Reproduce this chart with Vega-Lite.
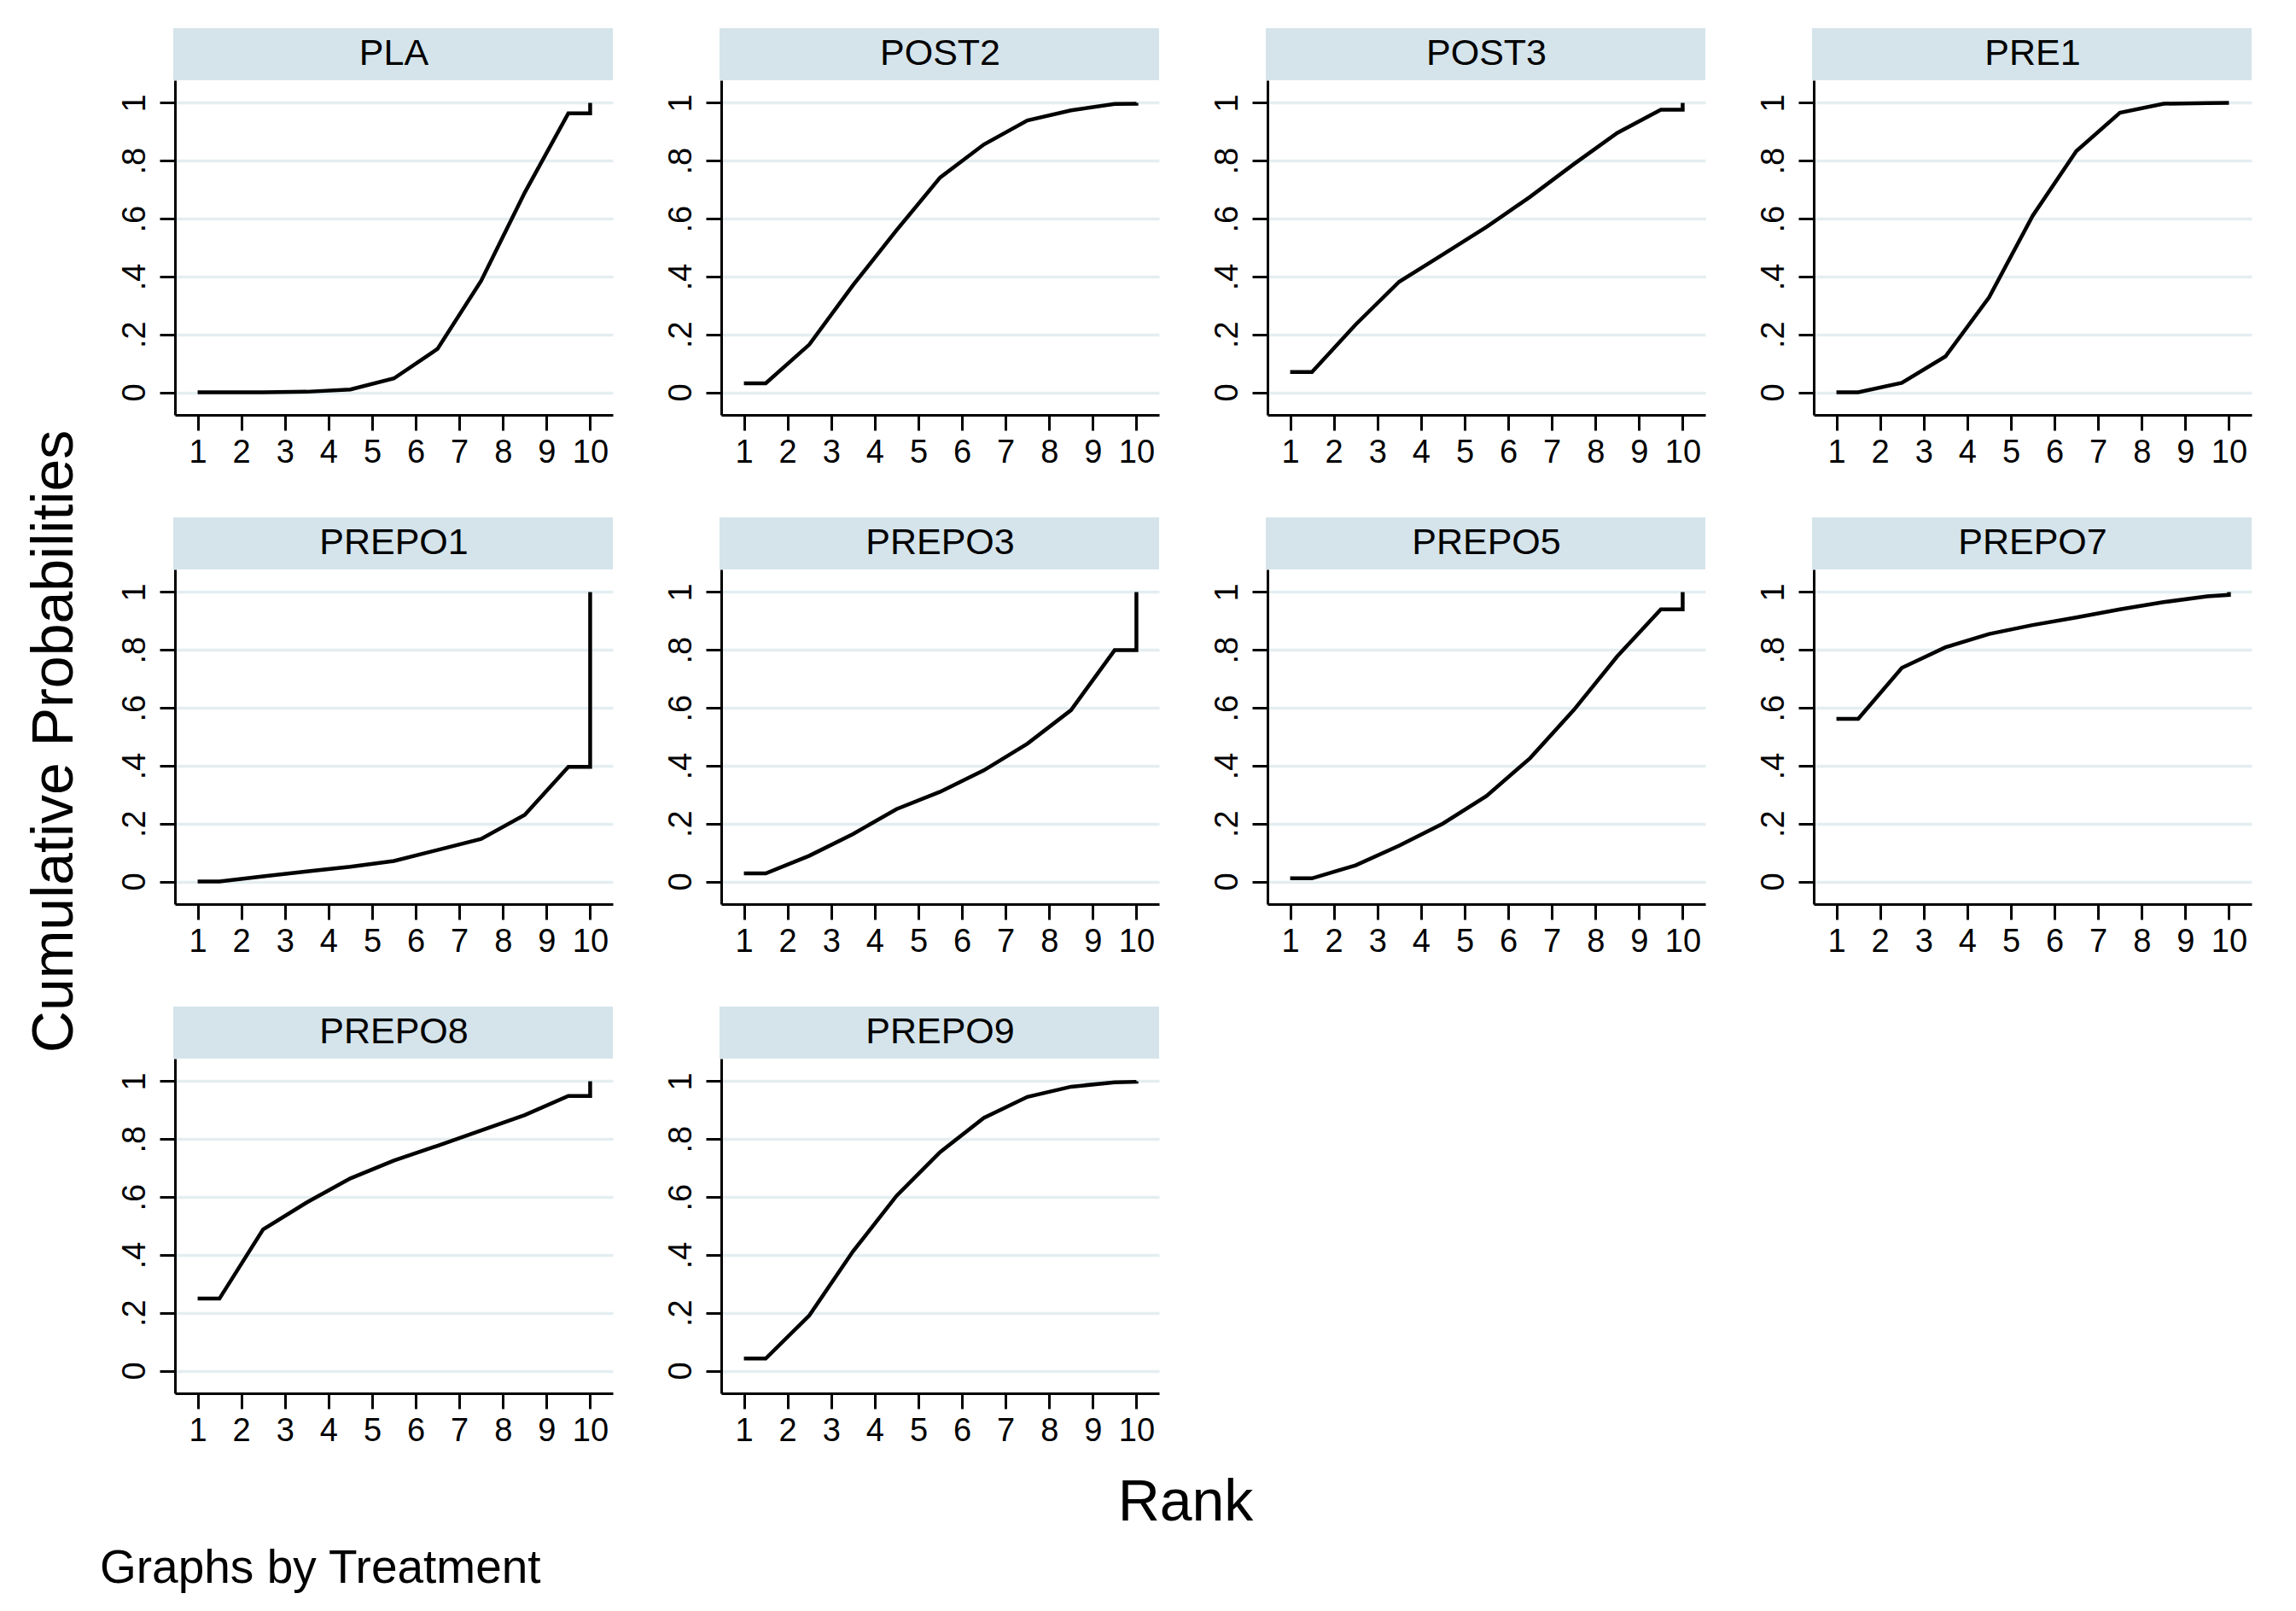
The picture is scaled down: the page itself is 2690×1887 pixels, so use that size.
{
  "$schema": "https://vega.github.io/schema/vega-lite/v6.json",
  "background": "white",
  "padding": {"left": 30, "top": 31, "right": 10, "bottom": 10},
  "config": {
    "font": "Liberation Sans",
    "view": {"stroke": null},
    "axis": {"domainColor": "black", "domainWidth": 3, "tickColor": "black", "tickWidth": 3, "tickSize": 18, "labelColor": "black", "labelFontSize": 38, "labelFont": "Liberation Sans", "labelPadding": 10, "grid": false},
    "title": {"fontWeight": "normal", "color": "black", "font": "Liberation Sans"}
  },
  "data": {"values": [
    {"t":"PLA","o":0,"r":1,"p":0},{"t":"PLA","o":1,"r":1.5,"p":0},{"t":"PLA","o":2,"r":2.5,"p":0},{"t":"PLA","o":3,"r":3.5,"p":0.002},{"t":"PLA","o":4,"r":4.5,"p":0.01},{"t":"PLA","o":5,"r":5.5,"p":0.048},{"t":"PLA","o":6,"r":6.5,"p":0.15},{"t":"PLA","o":7,"r":7.5,"p":0.385},{"t":"PLA","o":8,"r":8.5,"p":0.69},{"t":"PLA","o":9,"r":9.5,"p":0.964},{"t":"PLA","o":10,"r":10,"p":0.964},{"t":"PLA","o":11,"r":10,"p":1},
    {"t":"POST2","o":0,"r":1,"p":0.031},{"t":"POST2","o":1,"r":1.5,"p":0.031},{"t":"POST2","o":2,"r":2.5,"p":0.165},{"t":"POST2","o":3,"r":3.5,"p":0.37},{"t":"POST2","o":4,"r":4.5,"p":0.56},{"t":"POST2","o":5,"r":5.5,"p":0.742},{"t":"POST2","o":6,"r":6.5,"p":0.856},{"t":"POST2","o":7,"r":7.5,"p":0.939},{"t":"POST2","o":8,"r":8.5,"p":0.974},{"t":"POST2","o":9,"r":9.5,"p":0.996},{"t":"POST2","o":10,"r":10,"p":0.997},{"t":"POST2","o":11,"r":10,"p":1},
    {"t":"POST3","o":0,"r":1,"p":0.07},{"t":"POST3","o":1,"r":1.5,"p":0.07},{"t":"POST3","o":2,"r":2.5,"p":0.234},{"t":"POST3","o":3,"r":3.5,"p":0.382},{"t":"POST3","o":4,"r":4.5,"p":0.476},{"t":"POST3","o":5,"r":5.5,"p":0.571},{"t":"POST3","o":6,"r":6.5,"p":0.675},{"t":"POST3","o":7,"r":7.5,"p":0.788},{"t":"POST3","o":8,"r":8.5,"p":0.896},{"t":"POST3","o":9,"r":9.5,"p":0.976},{"t":"POST3","o":10,"r":10,"p":0.976},{"t":"POST3","o":11,"r":10,"p":1},
    {"t":"PRE1","o":0,"r":1,"p":0},{"t":"PRE1","o":1,"r":1.5,"p":0},{"t":"PRE1","o":2,"r":2.5,"p":0.033},{"t":"PRE1","o":3,"r":3.5,"p":0.124},{"t":"PRE1","o":4,"r":4.5,"p":0.328},{"t":"PRE1","o":5,"r":5.5,"p":0.61},{"t":"PRE1","o":6,"r":6.5,"p":0.833},{"t":"PRE1","o":7,"r":7.5,"p":0.966},{"t":"PRE1","o":8,"r":8.5,"p":0.997},{"t":"PRE1","o":9,"r":9.5,"p":0.999},{"t":"PRE1","o":10,"r":10,"p":1},{"t":"PRE1","o":11,"r":10,"p":1},
    {"t":"PREPO1","o":0,"r":1,"p":0},{"t":"PREPO1","o":1,"r":1.5,"p":0},{"t":"PREPO1","o":2,"r":2.5,"p":0.018},{"t":"PREPO1","o":3,"r":3.5,"p":0.035},{"t":"PREPO1","o":4,"r":4.5,"p":0.051},{"t":"PREPO1","o":5,"r":5.5,"p":0.071},{"t":"PREPO1","o":6,"r":6.5,"p":0.109},{"t":"PREPO1","o":7,"r":7.5,"p":0.147},{"t":"PREPO1","o":8,"r":8.5,"p":0.23},{"t":"PREPO1","o":9,"r":9.5,"p":0.396},{"t":"PREPO1","o":10,"r":10,"p":0.396},{"t":"PREPO1","o":11,"r":10,"p":1},
    {"t":"PREPO3","o":0,"r":1,"p":0.028},{"t":"PREPO3","o":1,"r":1.5,"p":0.028},{"t":"PREPO3","o":2,"r":2.5,"p":0.089},{"t":"PREPO3","o":3,"r":3.5,"p":0.164},{"t":"PREPO3","o":4,"r":4.5,"p":0.25},{"t":"PREPO3","o":5,"r":5.5,"p":0.31},{"t":"PREPO3","o":6,"r":6.5,"p":0.384},{"t":"PREPO3","o":7,"r":7.5,"p":0.476},{"t":"PREPO3","o":8,"r":8.5,"p":0.592},{"t":"PREPO3","o":9,"r":9.5,"p":0.799},{"t":"PREPO3","o":10,"r":10,"p":0.799},{"t":"PREPO3","o":11,"r":10,"p":1},
    {"t":"PREPO5","o":0,"r":1,"p":0.011},{"t":"PREPO5","o":1,"r":1.5,"p":0.011},{"t":"PREPO5","o":2,"r":2.5,"p":0.056},{"t":"PREPO5","o":3,"r":3.5,"p":0.124},{"t":"PREPO5","o":4,"r":4.5,"p":0.2},{"t":"PREPO5","o":5,"r":5.5,"p":0.295},{"t":"PREPO5","o":6,"r":6.5,"p":0.426},{"t":"PREPO5","o":7,"r":7.5,"p":0.592},{"t":"PREPO5","o":8,"r":8.5,"p":0.778},{"t":"PREPO5","o":9,"r":9.5,"p":0.94},{"t":"PREPO5","o":10,"r":10,"p":0.94},{"t":"PREPO5","o":11,"r":10,"p":1},
    {"t":"PREPO7","o":0,"r":1,"p":0.562},{"t":"PREPO7","o":1,"r":1.5,"p":0.562},{"t":"PREPO7","o":2,"r":2.5,"p":0.738},{"t":"PREPO7","o":3,"r":3.5,"p":0.809},{"t":"PREPO7","o":4,"r":4.5,"p":0.855},{"t":"PREPO7","o":5,"r":5.5,"p":0.886},{"t":"PREPO7","o":6,"r":6.5,"p":0.912},{"t":"PREPO7","o":7,"r":7.5,"p":0.94},{"t":"PREPO7","o":8,"r":8.5,"p":0.965},{"t":"PREPO7","o":9,"r":9.5,"p":0.985},{"t":"PREPO7","o":10,"r":10,"p":0.99},{"t":"PREPO7","o":11,"r":10,"p":1},
    {"t":"PREPO8","o":0,"r":1,"p":0.249},{"t":"PREPO8","o":1,"r":1.5,"p":0.249},{"t":"PREPO8","o":2,"r":2.5,"p":0.488},{"t":"PREPO8","o":3,"r":3.5,"p":0.581},{"t":"PREPO8","o":4,"r":4.5,"p":0.664},{"t":"PREPO8","o":5,"r":5.5,"p":0.726},{"t":"PREPO8","o":6,"r":6.5,"p":0.777},{"t":"PREPO8","o":7,"r":7.5,"p":0.83},{"t":"PREPO8","o":8,"r":8.5,"p":0.883},{"t":"PREPO8","o":9,"r":9.5,"p":0.949},{"t":"PREPO8","o":10,"r":10,"p":0.949},{"t":"PREPO8","o":11,"r":10,"p":1},
    {"t":"PREPO9","o":0,"r":1,"p":0.042},{"t":"PREPO9","o":1,"r":1.5,"p":0.042},{"t":"PREPO9","o":2,"r":2.5,"p":0.191},{"t":"PREPO9","o":3,"r":3.5,"p":0.412},{"t":"PREPO9","o":4,"r":4.5,"p":0.604},{"t":"PREPO9","o":5,"r":5.5,"p":0.755},{"t":"PREPO9","o":6,"r":6.5,"p":0.873},{"t":"PREPO9","o":7,"r":7.5,"p":0.946},{"t":"PREPO9","o":8,"r":8.5,"p":0.981},{"t":"PREPO9","o":9,"r":9.5,"p":0.996},{"t":"PREPO9","o":10,"r":10,"p":0.998},{"t":"PREPO9","o":11,"r":10,"p":1}
  ]},
  "title": {"text": "Graphs by Treatment", "orient": "bottom", "anchor": "start", "fontSize": 55, "offset": 16, "dx": 86},
  "vconcat": [
    {
      "title": {"text": "Cumulative Probabilities", "orient": "left", "anchor": "middle", "fontSize": 68, "offset": 40, "dx": 45},
      "facet": {"field": "t", "type": "nominal", "title": "Rank", "header": {"labels": false, "labelFontSize": 1, "labelColor": "white", "labelPadding": 0, "titleOrient": "bottom", "titleFontSize": 68, "titleFontWeight": "normal", "titleColor": "black", "titleFont": "Liberation Sans", "titlePadding": 95}},
      "columns": 4,
      "bounds": "flush",
      "spacing": {"row": 181, "column": 127},
      "resolve": {"axis": {"x": "independent", "y": "independent"}},
      "spec": {
        "width": 513,
        "height": 392,
        "encoding": {
          "x": {"field": "r", "type": "quantitative", "title": null, "scale": {"domain": [0.48, 10.52], "nice": false, "zero": false}, "axis": {"title": null, "values": [1,2,3,4,5,6,7,8,9,10], "format": "d", "labelAngle": 0, "labelOverlap": false, "labelBound": false, "labelFlush": false, "labelPadding": 7}},
          "y": {"field": "p", "type": "quantitative", "title": null, "scale": {"domain": [-0.078, 1.078], "nice": false, "zero": false}, "axis": {"title": null, "values": [0,0.2,0.4,0.6,0.8,1], "labelExpr": "datum.value == 0 ? '0' : datum.value == 1 ? '1' : substring(format(datum.value, '.1f'), 1)", "labelAngle": -90, "labelAlign": "center", "labelBaseline": "bottom", "labelOverlap": false, "labelBound": false, "labelFlush": false, "grid": true, "gridColor": "#e4eef1", "gridWidth": 3.5}}
        },
        "layer": [
          {
            "mark": {"type": "line", "color": "black", "strokeWidth": 4.5},
            "encoding": {
              "order": {"field": "o", "type": "quantitative"}
            }
          },
          {
            "transform": [{"filter": "datum.o == 0"}],
            "mark": {"type": "rect", "color": "#d5e4eb"},
            "encoding": {
              "x": {"datum": 0.44, "type": "quantitative", "title": null, "scale": {"domain": [0.48, 10.52], "nice": false, "zero": false}},
              "x2": {"datum": 10.52},
              "y": {"datum": 1.078, "type": "quantitative", "title": null, "scale": {"domain": [-0.078, 1.078], "nice": false, "zero": false}},
              "y2": {"datum": 1.258}
            }
          },
          {
            "transform": [{"filter": "datum.o == 0"}],
            "mark": {"type": "text", "fontSize": 43, "color": "black", "baseline": "middle", "align": "center"},
            "encoding": {
              "x": {"datum": 5.5, "type": "quantitative", "title": null, "scale": {"domain": [0.48, 10.52], "nice": false, "zero": false}},
              "y": {"datum": 1.168, "type": "quantitative", "title": null, "scale": {"domain": [-0.078, 1.078], "nice": false, "zero": false}},
              "text": {"field": "t"}
            }
          }
        ]
      }
    }
  ]
}
